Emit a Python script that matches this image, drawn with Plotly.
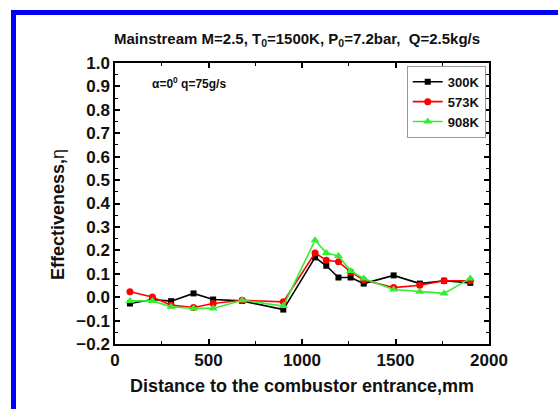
import plotly.graph_objects as go

x_mm = [80, 200, 300, 420, 525, 680, 900, 1070, 1130, 1195, 1260, 1330, 1490, 1630, 1760, 1900]
eta_300K = [-0.027, -0.010, -0.017, 0.016, -0.010, -0.016, -0.053, 0.170, 0.134, 0.084, 0.084, 0.058, 0.093, 0.058, 0.070, 0.061]
eta_573K = [0.023, 0.001, -0.034, -0.044, -0.027, -0.013, -0.020, 0.189, 0.158, 0.151, 0.108, 0.073, 0.041, 0.051, 0.070, 0.070]
eta_908K = [-0.016, -0.016, -0.041, -0.048, -0.048, -0.013, -0.038, 0.243, 0.189, 0.176, 0.112, 0.080, 0.033, 0.023, 0.016, 0.080]

series = [
    ("300K", eta_300K, "#000000", "square", 6),
    ("573K", eta_573K, "#FF0000", "circle", 7),
    ("908K", eta_908K, "#33EE33", "triangle-up", 8),
]

FONT = "Liberation Sans, Arial, sans-serif"

fig = go.Figure()
for name, y, c, sym, sz in series:
    fig.add_trace(go.Scatter(
        x=x_mm, y=y, name=name, mode="lines+markers",
        line=dict(color=c, width=1.6),
        marker=dict(symbol=sym, size=sz, color=c),
    ))

W, H = 558, 409
L, R, T, B = 115, 489, 63, 344

axis_common = dict(
    showline=True, linecolor="black", linewidth=1.5, mirror="allticks",
    ticks="inside", ticklen=5, tickwidth=1.5, tickcolor="black",
    showgrid=False, zeroline=False,
    tickfont=dict(family=FONT, size=17, color="#111", weight="bold"),
)

fig.update_layout(
    width=W, height=H,
    margin=dict(l=L, r=W - R, t=T, b=H - B),
    paper_bgcolor="white", plot_bgcolor="white",
    showlegend=True,
    legend=dict(
        x=0.78, y=0.99, xanchor="left", yanchor="top",
        bgcolor="white", bordercolor="#999", borderwidth=1,
        font=dict(family=FONT, size=13, color="#111", weight="bold"),
        tracegroupgap=0, itemwidth=30,
    ),
    xaxis=dict(range=[0, 2000], tickvals=[0, 500, 1000, 1500, 2000],
               minor=dict(tickvals=[250, 750, 1250, 1750], ticks="inside", ticklen=3, tickcolor="black", tickwidth=1.2),
               **axis_common),
    yaxis=dict(range=[-0.2, 1.0], tickvals=[-0.2, -0.1, 0, 0.1, 0.2, 0.3, 0.4, 0.5, 0.6, 0.7, 0.8, 0.9, 1.0],
               tickformat=".1f",
               minor=dict(dtick=0.05, ticks="inside", ticklen=3, tickcolor="black", tickwidth=1.2),
               **axis_common),
)

pw, ph = R - L, B - T
def px(x):
    return (x - L) / pw
def py(y):
    return (B - y) / ph

# x-axis title
fig.add_annotation(text="Distance to the combustor entrance,mm", xref="paper", yref="paper",
                   x=px(302), y=py(386), showarrow=False, xanchor="center", yanchor="middle",
                   font=dict(family=FONT, size=18, color="#111", weight="bold"))
# y-axis title
fig.add_annotation(text="<b>Effectiveness,</b>η", xref="paper", yref="paper",
                   x=px(58), y=py(215), showarrow=False, textangle=-90, xanchor="center", yanchor="middle",
                   font=dict(family=FONT, size=18, color="#111"))
# title
fig.add_annotation(text="Mainstream M=2.5, T<sub>0</sub>=1500K, P<sub>0</sub>=7.2bar,  Q=2.5kg/s",
                   xref="paper", yref="paper", x=px(297), y=py(39), showarrow=False,
                   xanchor="center", yanchor="middle",
                   font=dict(family=FONT, size=15, color="#111", weight="bold"))
# inner annotation
fig.add_annotation(text="α=0<sup>0</sup> q=75g/s", xref="paper", yref="paper",
                   x=px(150), y=py(83), showarrow=False, xanchor="left", yanchor="middle",
                   font=dict(family=FONT, size=12, color="#111", weight="bold"))

# blue frame (cut off on right and bottom)
fig.add_shape(type="rect", xref="paper", yref="paper",
              x0=px(13.5), x1=px(W + 20), y0=py(H + 20), y1=py(12.5),
              line=dict(color="#0000FF", width=5), fillcolor="rgba(0,0,0,0)", layer="above")

fig.write_html("out.html")
